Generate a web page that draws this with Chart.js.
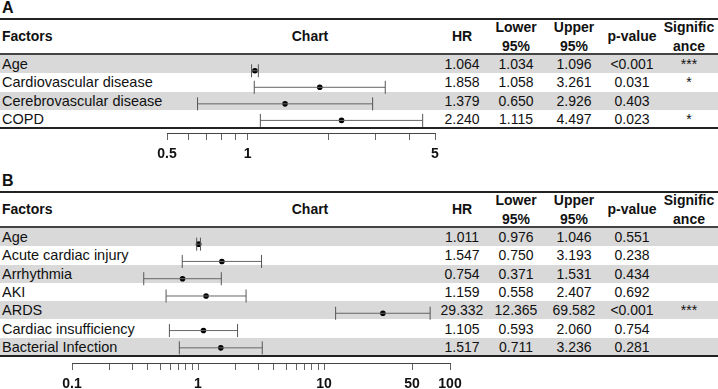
<!DOCTYPE html>
<html>
<head>
<meta charset="utf-8">
<script src="https://cdn.jsdelivr.net/npm/chart.js@4.4.0/dist/chart.umd.min.js"></script>
<style>
body{margin:0;background:#fff;font-family:"Liberation Sans",Arial,sans-serif;color:#111;}
#page{position:relative;width:718px;height:389px;overflow:hidden;}
.t{position:absolute;white-space:nowrap;font-size:14px;line-height:16px;}
.f{font-size:14.5px;}
.b{font-weight:bold;}
.c{transform:translateX(-50%);text-align:center;}
.rule{position:absolute;left:0;width:718px;}
.band{position:absolute;left:0;width:718px;background:#d9d9d9;}
canvas{position:absolute;}
</style>
</head>
<body>
<div id="page"></div>
<script>
// Panel A
var factorsA = ['Age','Cardiovascular disease','Cerebrovascular disease','COPD'];
var hrA = [1.064,1.858,1.379,2.240];
var lowA = [1.034,1.058,0.650,1.115];
var upA = [1.096,3.261,2.926,4.497];
var pA = ['<0.001','0.031','0.403','0.023'];
var sigA = ['***','*','','*'];
var ticksA = [0.5,0.6,0.7,0.8,0.9,1,2,3,4,5];
var labelsA = [0.5,1,5];

// Panel B
var factorsB = ['Age','Acute cardiac injury','Arrhythmia','AKI','ARDS','Cardiac insufficiency','Bacterial Infection'];
var hrB = [1.011,1.547,0.754,1.159,29.332,1.105,1.517];
var lowB = [0.976,0.750,0.371,0.558,12.365,0.593,0.711];
var upB = [1.046,3.193,1.531,2.407,69.582,2.060,3.236];
var pB = ['0.551','0.238','0.434','0.692','<0.001','0.754','0.281'];
var sigB = ['','','','','***','',''];
var ticksB = [0.1,0.2,0.3,0.4,0.5,0.6,0.7,0.8,0.9,1,2,3,4,5,6,7,8,9,10,50,100];
var labelsB = [0.1,1,10,50,100];

var headers = [['HR'],['Lower','95%'],['Upper','95%'],['p-value'],['Signific','ance']];
var colX = [462,516,574,632,689];
var page = document.getElementById('page');

function txt(s, x, cy, cls) {
  var d = document.createElement('div');
  d.className = 't ' + (cls || '');
  d.textContent = s;
  d.style.left = x + 'px';
  d.style.top = (cy - 8) + 'px';
  page.appendChild(d);
  return d;
}

function rule(y, h, col) {
  var d = document.createElement('div');
  d.className = 'rule';
  d.style.top = y + 'px';
  d.style.height = h + 'px';
  d.style.background = col;
  page.appendChild(d);
}

function panel(p) {
  var lab = txt(p.label, 2, p.top - 10, 'b');
  lab.style.fontSize = '16px';
  rule(p.top, 2, '#222');
  var hc = p.top + 18;
  txt('Factors', 2, hc, 'b');
  txt('Chart', 310, hc, 'b c');
  headers.forEach(function(h, j) {
    if (h.length == 1) txt(h[0], colX[j], hc, 'b c');
    else { txt(h[0], colX[j], hc - 9, 'b c'); txt(h[1], colX[j], hc + 10, 'b c'); }
  });
  rule(p.top + 35, 2, '#444');
  var r0 = p.top + 37;
  p.factors.forEach(function(f, i) {
    var cy = r0 + p.rowH * (i + 0.5);
    if (i % 2 == 0) {
      var b = document.createElement('div');
      b.className = 'band';
      b.style.top = (r0 + p.rowH * i) + 'px';
      b.style.height = p.rowH + 'px';
      page.appendChild(b);
    }
    txt(f, 2, cy, 'f');
    txt(p.hr[i].toFixed(3), colX[0], cy, 'c');
    txt(p.low[i].toFixed(3), colX[1], cy, 'c');
    txt(p.up[i].toFixed(3), colX[2], cy, 'c');
    txt(p.p[i], colX[3], cy, 'c');
    if (p.sig[i]) txt(p.sig[i], colX[4], cy, 'c');
  });
  var rEnd = r0 + p.rowH * p.factors.length;
  rule(Math.round(rEnd) - 1, 2, '#222');

  // forest plot
  var pad = 22;
  var cv = document.createElement('canvas');
  var w = p.right - p.left + 2 * pad;
  var h = p.axisY - r0 + 36;
  cv.width = w; cv.height = h;
  cv.style.left = (p.left - pad) + 'px';
  cv.style.top = r0 + 'px';
  page.appendChild(cv);

  var sets = p.factors.map(function(f, i) {
    return {
      data: [{x: p.low[i], y: i + 0.5}, {x: p.up[i], y: i + 0.5}],
      showLine: true,
      borderColor: '#666',
      borderWidth: 1,
      pointStyle: 'line',
      rotation: 90,
      pointRadius: 6.5,
      pointBorderColor: '#555',
      pointBorderWidth: 1,
      clip: false
    };
  });
  sets.push({
    data: p.hr.map(function(v, i) { return {x: v, y: i + 0.5}; }),
    pointRadius: 2.8,
    backgroundColor: '#000',
    borderWidth: 0,
    pointBorderWidth: 0,
    clip: false
  });

  new Chart(cv, {
    type: 'scatter',
    data: {datasets: sets},
    options: {
      responsive: false,
      animation: false,
      devicePixelRatio: 1,
      layout: {padding: {left: pad, right: pad, top: 0, bottom: 0}},
      plugins: {legend: {display: false}, tooltip: {enabled: false}},
      scales: {
        x: {
          type: 'logarithmic',
          min: p.ticks[0],
          max: p.ticks[p.ticks.length - 1],
          afterBuildTicks: function(s) { s.ticks = p.ticks.map(function(v) { return {value: v}; }); },
          afterFit: function(s) { s.height = 36; },
          grid: {drawOnChartArea: false, tickLength: 7, color: '#666'},
          border: {color: '#444'},
          ticks: {
            autoSkip: false, maxRotation: 0, padding: 6, color: '#111',
            font: {family: '"Liberation Sans", Arial, sans-serif', size: 14, weight: 'bold'},
            callback: function(v) { return p.labels.indexOf(v) >= 0 ? String(v) : ''; }
          }
        },
        y: {type: 'linear', display: false, reverse: true, min: 0, max: (p.axisY - r0) / p.rowH}
      }
    }
  });
}

panel({label: 'A', top: 18, rowH: 18.3, factors: factorsA, hr: hrA, low: lowA, up: upA, p: pA, sig: sigA,
  ticks: ticksA, labels: labelsA, left: 166.5, right: 435, axisY: 133});
panel({label: 'B', top: 191, rowH: 18.3, factors: factorsB, hr: hrB, low: lowB, up: upB, p: pB, sig: sigB,
  ticks: ticksB, labels: labelsB, left: 72, right: 450, axisY: 363});
</script>
</body>
</html>
